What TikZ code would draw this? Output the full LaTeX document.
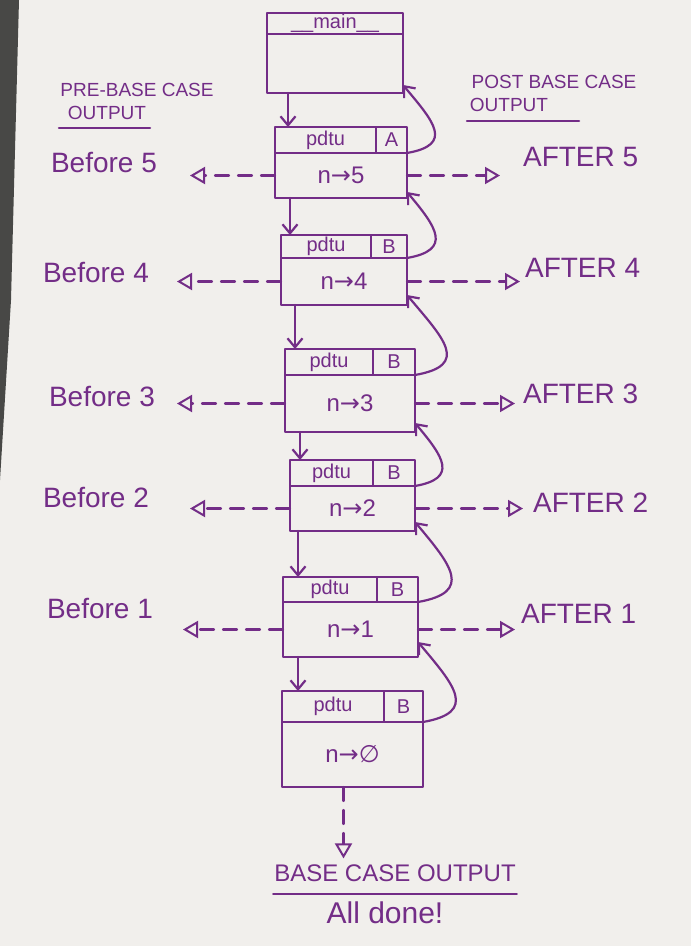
\documentclass[tikz,border=0pt]{standalone}
\usepackage{fontspec}
\setmainfont{Liberation Sans}
\newfontfamily\sym{DejaVu Sans}
\usetikzlibrary{arrows.meta,positioning}
\definecolor{ink}{RGB}{115,45,135}
\definecolor{paper}{RGB}{241,239,236}
\definecolor{edge}{RGB}{72,72,70}

\begin{document}
\begin{tikzpicture}[x=1pt,y=-1pt,line join=round,line cap=round,>={Straight Barb[length=9pt,width=15pt]},ink,line width=2.2pt]
	\tikzset{
		cell/.style={draw=ink,outer sep=0pt,inner sep=0pt,text=ink,font=\fontsize{20}{22}\selectfont},
		hand/.style={text=ink,inner sep=0pt,font=\fontsize{28}{30}\selectfont},
		title/.style={text=ink,inner sep=0pt,font=\fontsize{19}{21}\selectfont},
		sidearrow/.style={dash pattern=on 14pt off 9pt,-{Triangle[open,length=15pt,width=17pt,line width=2pt]}},
	}
	\fill[paper] (0,0) rectangle (691,946);
	\fill[edge] (0,0) -- (19,0) -- (11,300) -- (0,480) -- cycle;
	\useasboundingbox (0,0) rectangle (691,946);

	\node[cell,minimum width=136pt,minimum height=21pt,anchor=north west] (hM) at (267,13) {\_\_main\_\_};
	\node[cell,minimum width=136pt,minimum height=59pt,anchor=north west] (bM) at (hM.south west) {};
	\foreach \n/\l/\t/\nw/\lw/\hh/\bh/\c/\v in {
		5/275/127/101/31/26/45/A/5,
		4/281/235/90/36/23/47/B/4,
		3/285/349/88/42/26/57/B/3,
		2/290/460/83/42/26/45/B/2,
		1/283/577/94/41/25/55/B/1,
		0/282/691/102/39/31/65/B/{\sym ∅}}{
		\node[cell,minimum width=\nw pt,minimum height=\hh pt,anchor=north west] (h\n) at (\l,\t) {pdtu};
		\node[cell,minimum width=\lw pt,minimum height=\hh pt,anchor=north west] (c\n) at (h\n.north east) {\c};
		\node[cell,font=\fontsize{24}{26}\selectfont,minimum width=\nw pt+\lw pt,minimum height=\bh pt,anchor=north west] (b\n) at (h\n.south west) {n{\sym→}\v};
	}

	\foreach \a/\b/\s in {M/5/21,5/4/15,4/3/14,3/2/15,2/1/8,1/0/15}{
		\coordinate (d\a) at ([xshift=\s pt]b\a.south west);
		\draw[->] (d\a) -- (d\a |- h\b.north);
	}
	\foreach \a/\b/\s in {5/M/8,4/5/6,3/4/10,2/3/9,1/2/9,0/1/15}{
		\draw[->] (b\a.north east) to[out=10,in=-50,looseness=1.8] ([yshift=\s pt]b\b.south east);
	}

	\foreach \n/\bx/\by/\g in {5/158/163/32,4/150/272/27,3/156/396/21,2/150/497/40,1/154/608/29}{
		\node[hand,anchor=east] (pre\n) at (\bx,\by) {Before \n};
		\draw[sidearrow,shorten >=\g pt] (b\n.west) -- (b\n.west -| pre\n.east);
	}
	\foreach \n/\ax/\ay/\g in {5/522/157/22,4/524/268/4,3/522/394/7,2/532/503/9,1/520/614/5}{
		\node[hand,anchor=west] (post\n) at (\ax,\ay) {AFTER \n};
		\draw[sidearrow,shorten >=\g pt] (b\n.east) -- (b\n.east -| post\n.west);
	}

	\node[title] (pretop) at (137,90) {PRE-BASE CASE};
	\node[title] (preout) at (107,113) {OUTPUT};
	\draw ([shift={(-8pt,-7pt)}]preout.south west) -- ([shift={(3pt,-7pt)}]preout.south east);
	\node[title] (posttop) at (554,82) {POST BASE CASE};
	\node[title] (postout) at (509,105) {OUTPUT};
	\draw ([shift={(-2pt,-8pt)}]postout.south west) -- ([shift={(30pt,-8pt)}]postout.south east);

	\node[hand,font=\fontsize{24}{26}\selectfont] (base) at (395,873) {BASE CASE OUTPUT};
	\coordinate (e0) at ([xshift=-9pt]b0.south);
	\draw[sidearrow,shorten >=5pt] (e0) -- (e0 |- base.north);
	\draw ([yshift=-11pt]base.south west) -- ([yshift=-11pt]base.south east);
	\node[hand,font=\fontsize{30}{32}\selectfont] (done) at (385,913) {All done!};
\end{tikzpicture}
\end{document}
